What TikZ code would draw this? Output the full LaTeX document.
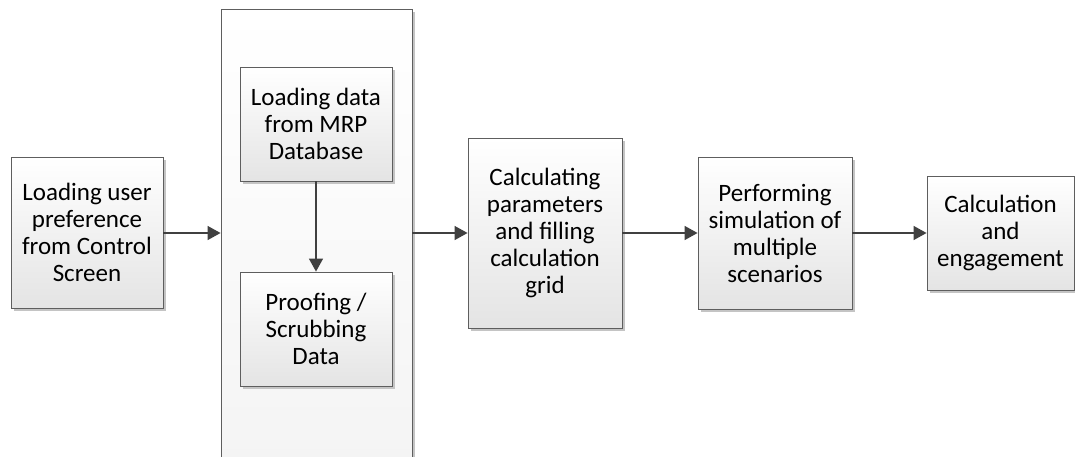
\documentclass[tikz,border=0pt]{standalone}
\usepackage{fontspec}
\setmainfont{Carlito}
\usetikzlibrary{arrows.meta,shadows}
\definecolor{edgegray}{HTML}{5E5E5E}
\definecolor{linegray}{HTML}{404040}
\definecolor{fillbottom}{HTML}{E4E4E4}
\definecolor{shadegray}{HTML}{C4C4C4}
\begin{document}
\begin{tikzpicture}[x=1pt,y=-1pt,
  stepbox/.style={draw=edgegray, line width=0.9pt, top color=white, bottom color=fillbottom,
    inner sep=0pt, align=center, font=\fontsize{25}{27}\selectfont,
    drop shadow={shadow xshift=2.5pt, shadow yshift=-2.5pt, fill=shadegray, opacity=1}},
  groupbox/.style={draw=edgegray, line width=0.9pt, top color=white, bottom color=gray!9,
    inner sep=0pt,
    drop shadow={shadow xshift=2.5pt, shadow yshift=-2.5pt, fill=shadegray, opacity=1}},
  arr/.style={draw=linegray, line width=1.5pt, -{Triangle[length=13pt,width=14pt]}}]
\clip (0,0) rectangle (1075,456);
\fill[white] (0,0) rectangle (1075,456);

\node[stepbox, minimum width=152, minimum height=151] (pref) at (87,232.5)
  {Loading user\\preference\\from Control\\Screen};

\node[groupbox, minimum width=191, minimum height=480] (group) at (316.5,249) {};
\node[stepbox, minimum width=152, minimum height=114] (load) at (316,124)
  {Loading data\\from MRP\\Database};
\node[stepbox, minimum width=152, minimum height=114] (proof) at (316,329)
  {Proofing /\\Scrubbing\\Data};

\node[stepbox, minimum width=154, minimum height=190] (calc) at (545,233)
  {Calculating\\parameters\\and filling\\calculation\\grid};
\node[stepbox, minimum width=154, minimum height=152] (sim) at (775,233)
  {Performing\\simulation of\\multiple\\scenarios};
\node[stepbox, minimum width=147, minimum height=114] (engage) at (1000.5,233)
  {Calculation\\and\\engagement};

\draw[arr] (pref.east |- calc.west) -- (group.west |- calc.west);
\draw[arr] (load.south) -- (proof.north);
\draw[arr] (group.east |- calc.west) -- (calc.west);
\draw[arr] (calc.east) -- (sim.west);
\draw[arr] (sim.east) -- (engage.west);
\end{tikzpicture}
\end{document}
